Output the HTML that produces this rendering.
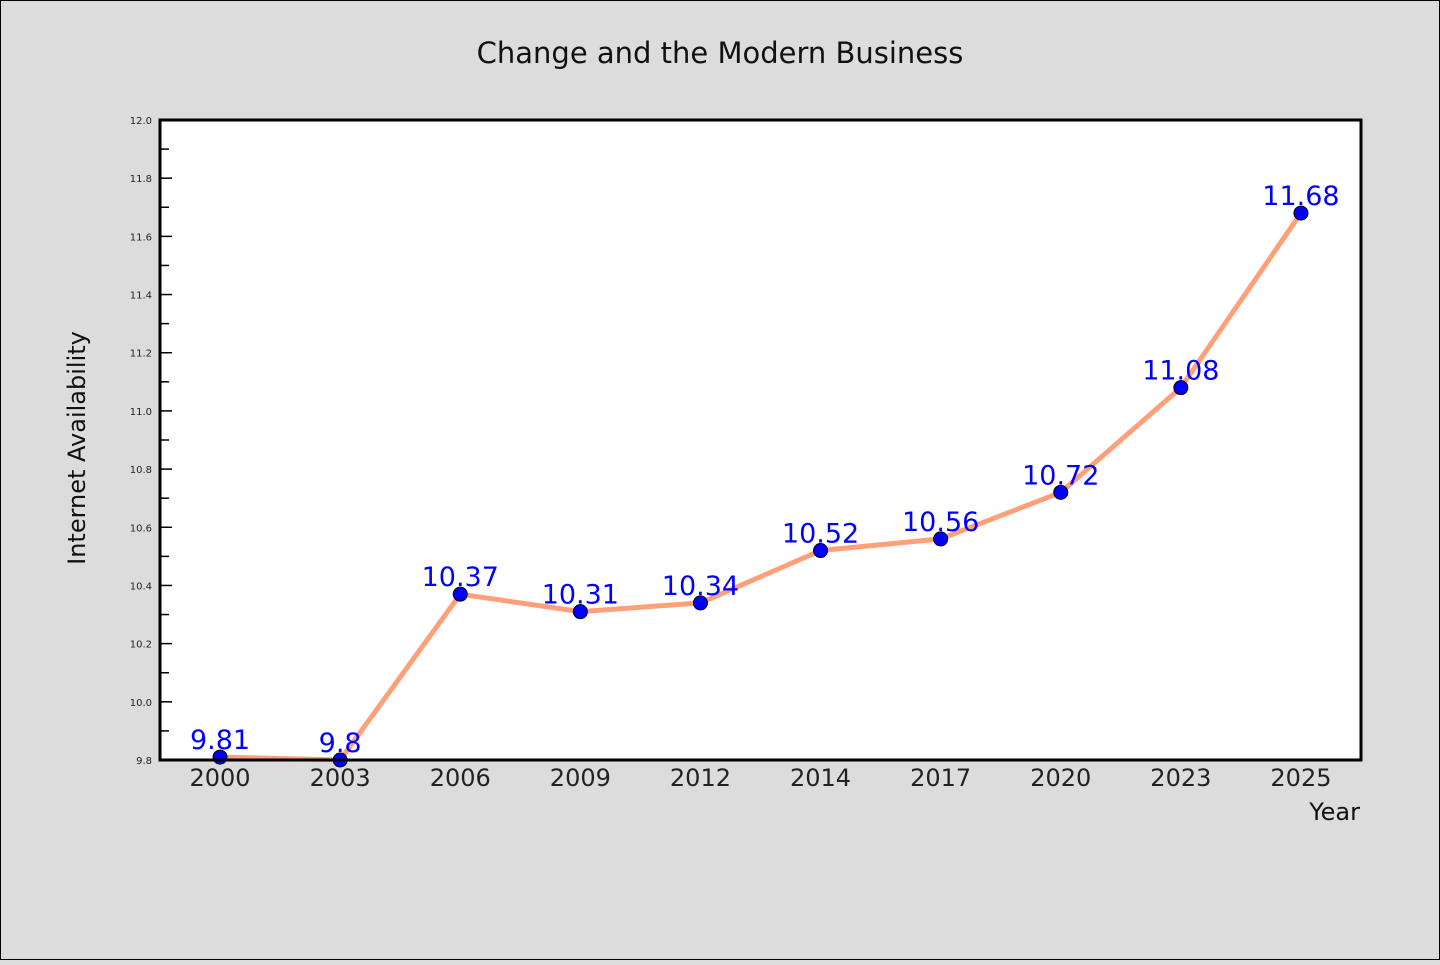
<!DOCTYPE html>
<html><head><meta charset="utf-8"><style>
body{margin:0;background:#dcdcdc;}
svg text{font-family:"WenQuanYi Zen Hei","DejaVu Sans",sans-serif;}
</style></head><body>
<svg width="1440" height="960" xmlns="http://www.w3.org/2000/svg">
<rect x="0.5" y="0.5" width="1439" height="959" fill="#dcdcdc" stroke="#000" stroke-width="1"/>
<text x="720" y="63" font-size="29" text-anchor="middle" fill="#111">Change and the Modern Business</text>
<rect x="160" y="120" width="1201" height="640" fill="#fff"/>
<g id="yaxis"></g><g id="xaxis"></g><g id="series"></g>
<rect x="160" y="120" width="1201" height="640" fill="none" stroke="#000" stroke-width="3"/>
<text transform="translate(85,448) rotate(-90)" font-size="24" text-anchor="middle" fill="#111">Internet Availability</text>
<text x="1360" y="820" font-size="24" text-anchor="end" fill="#111">Year</text>
</svg>
<script>
const categories=["2000","2003","2006","2009","2012","2014","2017","2020","2023","2025"];
const values=[9.81,9.8,10.37,10.31,10.34,10.52,10.56,10.72,11.08,11.68];
const valueLabels=["9.81","9.8","10.37","10.31","10.34","10.52","10.56","10.72","11.08","11.68"];
const yTicks=["9.8","10.0","10.2","10.4","10.6","10.8","11.0","11.2","11.4","11.6","11.8","12.0"];
const yMin=9.8,yMax=12.0,L=160,R=1361,T=120,B=760;
const NS="http://www.w3.org/2000/svg";
const y=v=>B-(v-yMin)/(yMax-yMin)*(B-T);
const step=(R-L)/categories.length;
const x=i=>L+step*(i+0.5);
function mk(t,a,p){const e=document.createElementNS(NS,t);for(const k in a)e.setAttribute(k,a[k]);p.appendChild(e);return e;}
const ya=document.getElementById('yaxis');
yTicks.forEach((t,i)=>{const v=parseFloat(t);const yy=y(v);
const ln=mk('line',{x1:L,x2:L+12,y1:yy,y2:yy,stroke:'#000','stroke-width':1.5},ya);


const tx=mk('text',{x:L-8,y:yy+4,'font-size':10,'text-anchor':'end',fill:'#222'},ya);tx.textContent=t;


if(i<yTicks.length-1){const my=y(v+0.1);const m=mk('line',{x1:L,x2:L+9,y1:my,y2:my,stroke:'#000','stroke-width':1.5},ya);

}
});
const xa=document.getElementById('xaxis');
categories.forEach((c,i)=>{const t=mk('text',{x:x(i),y:B+26,'font-size':24,'text-anchor':'middle',fill:'#222'},xa);t.textContent=c;

});
const s=document.getElementById('series');
const pl=mk('polyline',{points:values.map((v,i)=>x(i)+','+y(v)).join(' '),fill:'none',stroke:'#ffa07a','stroke-width':5,'stroke-linejoin':'round'},s);


values.forEach((v,i)=>{const c=mk('circle',{cx:x(i),cy:y(v),r:7,fill:'#0000ff',stroke:'#000','stroke-width':1},s);


const t=mk('text',{x:x(i),y:y(v)-8,'font-size':27,'text-anchor':'middle',fill:'#0000ff'},s);t.textContent=valueLabels[i];

});
</script>
</body></html>
